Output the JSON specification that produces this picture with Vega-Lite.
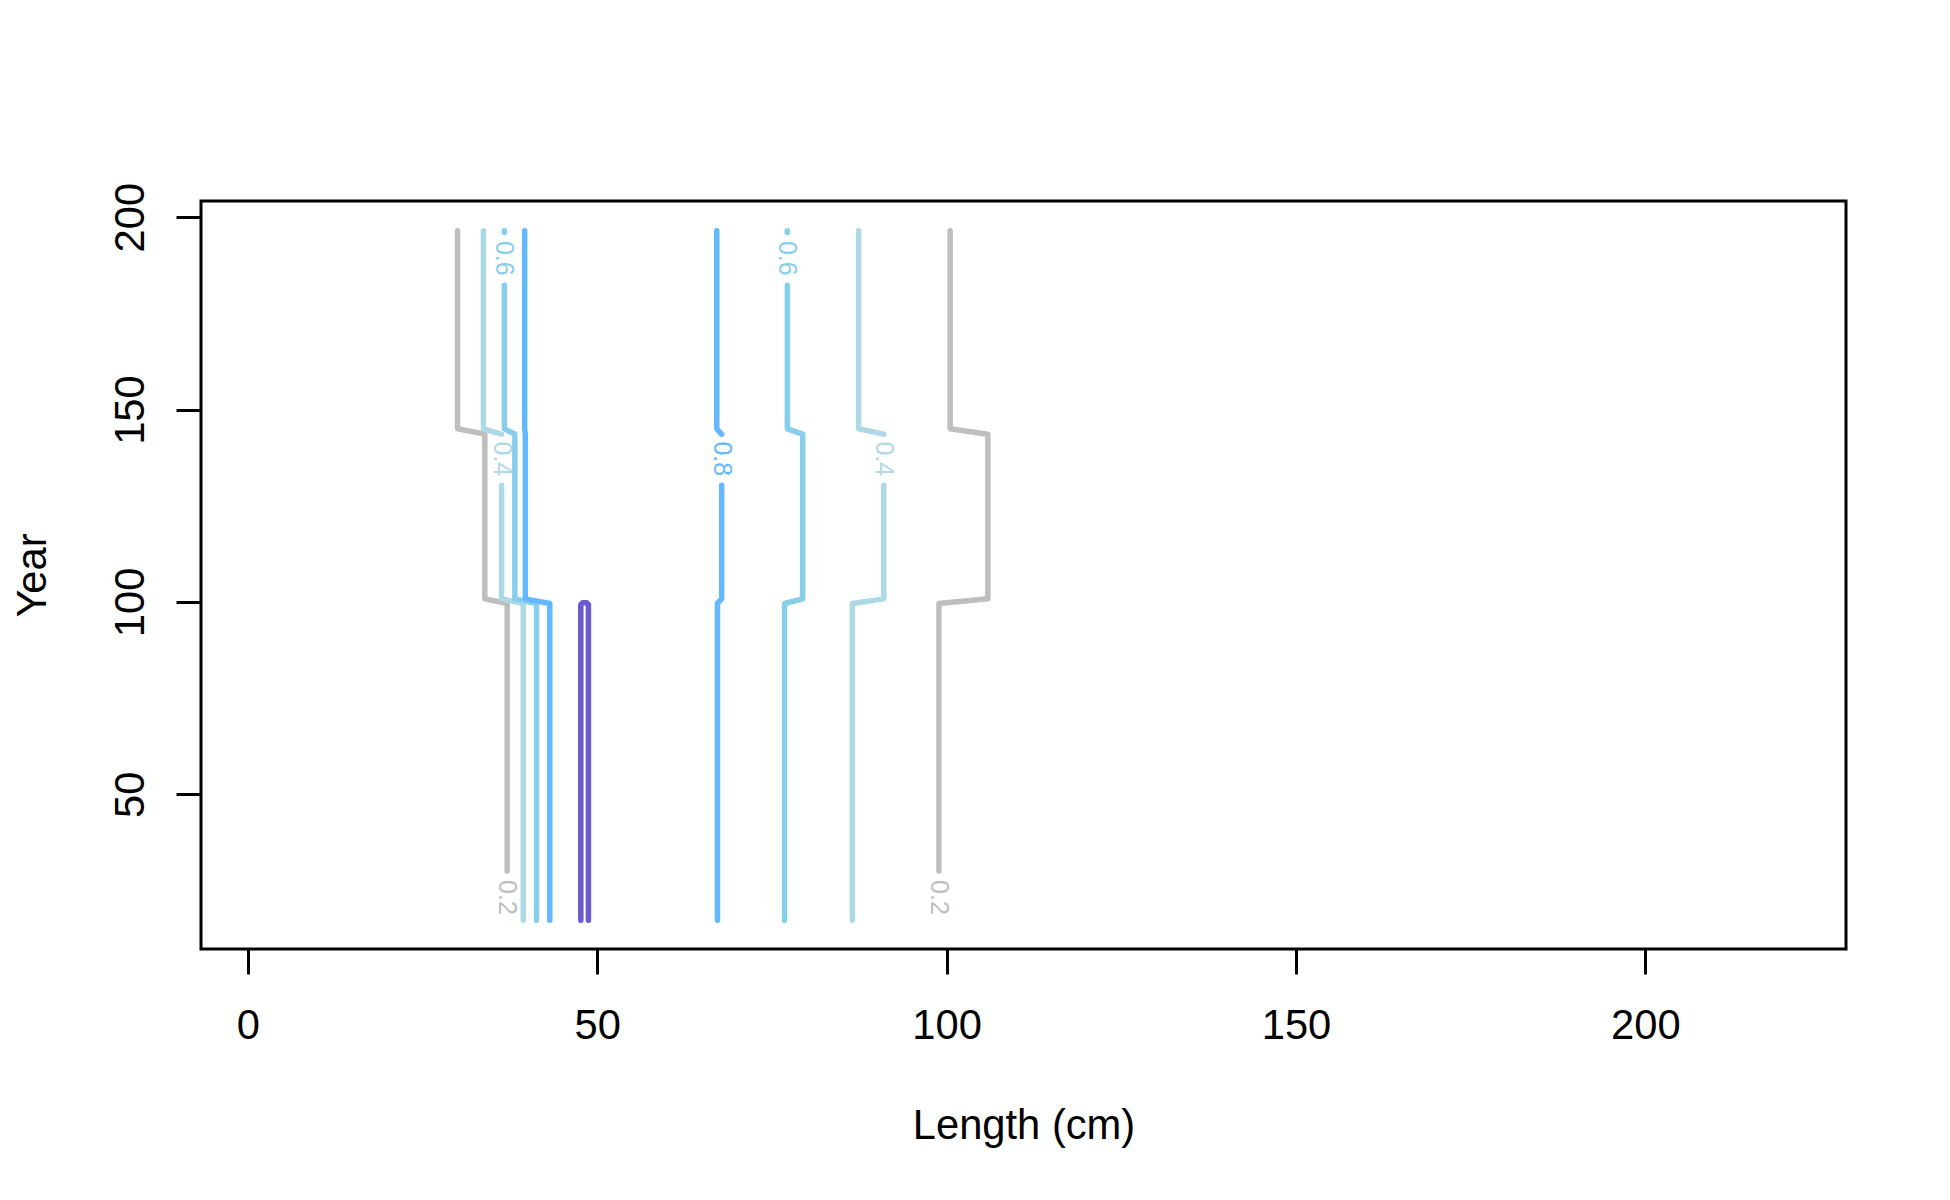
{
  "$schema": "https://vega.github.io/schema/vega-lite/v6.json",
  "width": 1645,
  "height": 748,
  "autosize": {"type": "none"},
  "padding": {"left": 201, "top": 201, "right": 104, "bottom": 251},
  "background": "white",
  "config": {
    "font": "Liberation Sans",
    "view": {"stroke": "black", "strokeWidth": 3},
    "axis": {
      "grid": false,
      "domain": false,
      "tickColor": "black",
      "tickWidth": 3,
      "tickSize": 25,
      "labelFontSize": 41.7,
      "labelColor": "black",
      "labelFont": "Liberation Sans",
      "titleFontSize": 41.7,
      "titleFontWeight": "normal",
      "titleColor": "black",
      "titleFont": "Liberation Sans"
    }
  },
  "datasets": {
    "lines": [
      {"level": "0.2", "seg": "g1", "ord": 1, "x": 30.0, "y": 196.5},
      {"level": "0.2", "seg": "g1", "ord": 2, "x": 30.0, "y": 145.0},
      {"level": "0.2", "seg": "g1", "ord": 3, "x": 33.9, "y": 143.6},
      {"level": "0.2", "seg": "g1", "ord": 4, "x": 33.9, "y": 100.8},
      {"level": "0.2", "seg": "g1", "ord": 5, "x": 37.1, "y": 99.6},
      {"level": "0.2", "seg": "g1", "ord": 6, "x": 37.1, "y": 30.1},

      {"level": "0.4", "seg": "lbA1", "ord": 1, "x": 33.7, "y": 196.5},
      {"level": "0.4", "seg": "lbA1", "ord": 2, "x": 33.7, "y": 145.0},
      {"level": "0.4", "seg": "lbA1", "ord": 3, "x": 36.3, "y": 143.6},
      {"level": "0.4", "seg": "lbB1", "ord": 1, "x": 36.3, "y": 130.3},
      {"level": "0.4", "seg": "lbB1", "ord": 2, "x": 36.3, "y": 100.8},
      {"level": "0.4", "seg": "lbB1", "ord": 3, "x": 39.4, "y": 99.6},
      {"level": "0.4", "seg": "lbB1", "ord": 4, "x": 39.4, "y": 17.3},

      {"level": "0.6", "seg": "sbA1", "ord": 1, "x": 36.7, "y": 196.5},
      {"level": "0.6", "seg": "sbA1", "ord": 2, "x": 36.7, "y": 196.0},
      {"level": "0.6", "seg": "sbB1", "ord": 1, "x": 36.7, "y": 182.3},
      {"level": "0.6", "seg": "sbB1", "ord": 2, "x": 36.7, "y": 145.0},
      {"level": "0.6", "seg": "sbB1", "ord": 3, "x": 38.2, "y": 143.6},
      {"level": "0.6", "seg": "sbB1", "ord": 4, "x": 38.2, "y": 100.8},
      {"level": "0.6", "seg": "sbB1", "ord": 5, "x": 41.3, "y": 99.6},
      {"level": "0.6", "seg": "sbB1", "ord": 6, "x": 41.3, "y": 17.3},

      {"level": "0.8", "seg": "st1", "ord": 1, "x": 39.6, "y": 196.5},
      {"level": "0.8", "seg": "st1", "ord": 2, "x": 39.6, "y": 145.0},
      {"level": "0.8", "seg": "st1", "ord": 3, "x": 39.7, "y": 143.6},
      {"level": "0.8", "seg": "st1", "ord": 4, "x": 39.7, "y": 100.8},
      {"level": "0.8", "seg": "st1", "ord": 5, "x": 43.2, "y": 99.6},
      {"level": "0.8", "seg": "st1", "ord": 6, "x": 43.2, "y": 17.3},

      {"level": "1", "seg": "pu", "ord": 1, "x": 47.64, "y": 17.3},
      {"level": "1", "seg": "pu", "ord": 2, "x": 47.64, "y": 99.3},
      {"level": "1", "seg": "pu", "ord": 3, "x": 47.9, "y": 99.8},
      {"level": "1", "seg": "pu", "ord": 4, "x": 48.5, "y": 99.8},
      {"level": "1", "seg": "pu", "ord": 5, "x": 48.73, "y": 99.3},
      {"level": "1", "seg": "pu", "ord": 6, "x": 48.73, "y": 17.3},

      {"level": "0.8", "seg": "stA2", "ord": 1, "x": 67.1, "y": 196.5},
      {"level": "0.8", "seg": "stA2", "ord": 2, "x": 67.1, "y": 145.0},
      {"level": "0.8", "seg": "stA2", "ord": 3, "x": 67.8, "y": 143.6},
      {"level": "0.8", "seg": "stB2", "ord": 1, "x": 67.8, "y": 130.3},
      {"level": "0.8", "seg": "stB2", "ord": 2, "x": 67.8, "y": 100.8},
      {"level": "0.8", "seg": "stB2", "ord": 3, "x": 67.2, "y": 99.6},
      {"level": "0.8", "seg": "stB2", "ord": 4, "x": 67.2, "y": 17.3},

      {"level": "0.6", "seg": "sbA2", "ord": 1, "x": 77.2, "y": 196.5},
      {"level": "0.6", "seg": "sbA2", "ord": 2, "x": 77.2, "y": 196.0},
      {"level": "0.6", "seg": "sbB2", "ord": 1, "x": 77.2, "y": 182.3},
      {"level": "0.6", "seg": "sbB2", "ord": 2, "x": 77.2, "y": 145.0},
      {"level": "0.6", "seg": "sbB2", "ord": 3, "x": 79.4, "y": 143.6},
      {"level": "0.6", "seg": "sbB2", "ord": 4, "x": 79.4, "y": 100.8},
      {"level": "0.6", "seg": "sbB2", "ord": 5, "x": 76.8, "y": 99.6},
      {"level": "0.6", "seg": "sbB2", "ord": 6, "x": 76.8, "y": 17.3},

      {"level": "0.4", "seg": "lbA2", "ord": 1, "x": 87.4, "y": 196.5},
      {"level": "0.4", "seg": "lbA2", "ord": 2, "x": 87.4, "y": 145.0},
      {"level": "0.4", "seg": "lbA2", "ord": 3, "x": 91.0, "y": 143.6},
      {"level": "0.4", "seg": "lbB2", "ord": 1, "x": 91.0, "y": 130.3},
      {"level": "0.4", "seg": "lbB2", "ord": 2, "x": 91.0, "y": 100.8},
      {"level": "0.4", "seg": "lbB2", "ord": 3, "x": 86.5, "y": 99.6},
      {"level": "0.4", "seg": "lbB2", "ord": 4, "x": 86.5, "y": 17.3},

      {"level": "0.2", "seg": "g2", "ord": 1, "x": 100.5, "y": 196.5},
      {"level": "0.2", "seg": "g2", "ord": 2, "x": 100.5, "y": 145.0},
      {"level": "0.2", "seg": "g2", "ord": 3, "x": 105.9, "y": 143.6},
      {"level": "0.2", "seg": "g2", "ord": 4, "x": 105.9, "y": 100.8},
      {"level": "0.2", "seg": "g2", "ord": 5, "x": 98.9, "y": 99.6},
      {"level": "0.2", "seg": "g2", "ord": 6, "x": 98.9, "y": 30.1}
    ],
    "labels": [
      {"level": "0.2", "label": "0.2", "x": 37.1, "y": 23.2},
      {"level": "0.2", "label": "0.2", "x": 98.9, "y": 23.2},
      {"level": "0.4", "label": "0.4", "x": 36.3, "y": 137.2},
      {"level": "0.4", "label": "0.4", "x": 91.0, "y": 137.2},
      {"level": "0.6", "label": "0.6", "x": 36.7, "y": 189.3},
      {"level": "0.6", "label": "0.6", "x": 77.2, "y": 189.3},
      {"level": "0.8", "label": "0.8", "x": 67.8, "y": 137.2}
    ]
  },
  "layer": [
    {
      "data": {"name": "lines"},
      "mark": {"type": "line", "strokeWidth": 5.5, "strokeCap": "round", "strokeJoin": "round", "clip": true},
      "encoding": {
        "x": {
          "field": "x", "type": "quantitative",
          "scale": {"domain": [-6.72, 228.72], "nice": false, "zero": false},
          "axis": {
            "values": [0, 50, 100, 150, 200],
            "labelPadding": 31,
            "labelFlush": false,
            "title": "Length (cm)",
            "titleBaseline": "alphabetic",
            "titleY": 189,
            "titleX": 822.5,
            "titleAlign": "center"
          }
        },
        "y": {
          "field": "y", "type": "quantitative",
          "scale": {"domain": [9.8, 204.2], "nice": false, "zero": false},
          "axis": {
            "values": [50, 100, 150, 200],
            "labelAngle": 270,
            "labelAlign": "center",
            "labelBaseline": "bottom",
            "labelPadding": 24,
            "labelFlush": false,
            "title": "Year",
            "titleAngle": 270,
            "titleBaseline": "alphabetic",
            "titleAlign": "center",
            "titleX": -156,
            "titleY": 374
          }
        },
        "color": {
          "field": "level", "type": "nominal",
          "scale": {"domain": ["0.2", "0.4", "0.6", "0.8", "1"], "range": ["#BEBEBE", "#ADD8E6", "#87CEEB", "#63B8FF", "#6A5ACD"]},
          "legend": null
        },
        "detail": {"field": "seg", "type": "nominal"},
        "order": {"field": "ord", "type": "quantitative"}
      }
    },
    {
      "data": {"name": "labels"},
      "mark": {"type": "text", "angle": 90, "align": "center", "baseline": "middle", "fontSize": 25, "font": "Liberation Sans"},
      "encoding": {
        "x": {"field": "x", "type": "quantitative"},
        "y": {"field": "y", "type": "quantitative"},
        "text": {"field": "label", "type": "nominal"},
        "color": {"field": "level", "type": "nominal", "legend": null}
      }
    }
  ]
}
